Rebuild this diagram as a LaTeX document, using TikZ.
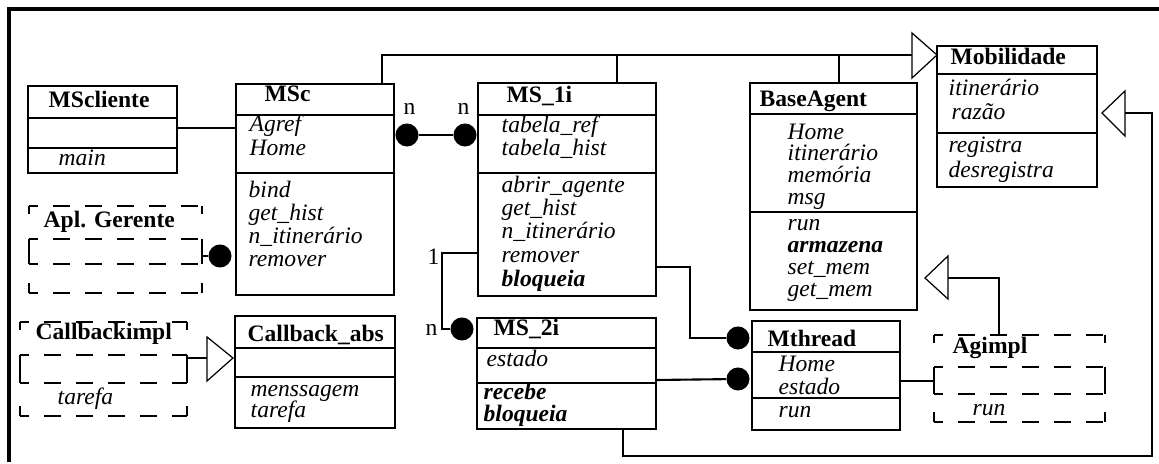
\documentclass[tikz,border=0pt]{standalone}
\usepackage{fontspec}
\setmainfont{Liberation Serif}
\newcommand\fs{\fontsize{6.7pt}{8pt}\selectfont}
% class box: name, x1, y1, width (cm), height (cm)
\newcommand\clsnode[5]{\node[clsbox, minimum width=#4cm, minimum height=#5cm] (#1) at (#2,#3) {};}
\newcommand\dshnode[5]{\node[dshbox, minimum width=#4cm, minimum height=#5cm] (#1) at (#2,#3) {};}
% compartment separators: name, y of first line, y of second line
\newcommand\seps[3]{%
  \draw[sep] (#1.west |- 0,#2) -- (#1.east |- 0,#2);
  \draw[sep] (#1.west |- 0,#3) -- (#1.east |- 0,#3);}
% dashed implementation box with three compartments
\newcommand\dshcomp[3]{%
  \draw[dsh] (#1.north west) -- (#1.north east);
  \draw[dsh] (#1.west |- 0,#2) -- (#1.east |- 0,#2);
  \draw[dsh] (#1.west |- 0,#3) -- (#1.east |- 0,#3);
  \draw[dsh] (#1.south west) -- (#1.south east);
  \draw[sep] (#1.north west) -- ++(0,8);
  \draw[sep] (#1.north east) -- ++(0,8);
  \draw[sep] (#1.west |- 0,#2) -- (#1.west |- 0,#3);
  \draw[sep] (#1.east |- 0,#2) -- (#1.east |- 0,#3);
  \draw[sep] (#1.south west) -- ++(0,-10);
  \draw[sep] (#1.south east) -- ++(0,-10);}
\tikzset{
  clsbox/.style={draw, line width=0.6pt, inner sep=0pt, outer sep=0pt, anchor=north west},
  dshbox/.style={inner sep=0pt, outer sep=0pt, anchor=north west},
  sep/.style={line width=0.6pt},
  dsh/.style={line width=0.6pt, dash pattern=on 0.17cm off 0.15cm, dash phase=0.08cm},
  conn/.style={line width=0.6pt},
  frame/.style={line width=0.9pt},
  dot/.style={circle, fill=black, inner sep=0pt, minimum size=0.23cm},
  tri/.style={line width=0.35pt, fill=white},
  ttl/.style={anchor=base west, inner sep=0pt, font=\fs\bfseries},
  itm/.style={anchor=base west, inner sep=0pt, font=\fs\itshape},
  itmb/.style={anchor=base west, inner sep=0pt, font=\fs\bfseries\itshape},
  lab/.style={anchor=base west, inner sep=0pt, font=\fs},
}
\begin{document}
\begin{tikzpicture}[x=0.01cm, y=-0.01cm]
\useasboundingbox (0,0) rectangle (1159,464);

% outer frame (top and left)
\draw[frame] (1159,9) -- (9,9) -- (9,462);

% classes
\clsnode{MScliente}{28}{86}{1.49}{0.87}
\seps{MScliente}{118}{148}
\clsnode{MSc}{236}{84}{1.58}{2.11}
\seps{MSc}{115}{173}
\clsnode{MSi}{478}{83}{1.78}{2.13}
\seps{MSi}{115}{173}
\clsnode{BaseAgent}{750}{83}{1.67}{2.27}
\seps{BaseAgent}{114}{212}
\clsnode{Mobilidade}{937}{46}{1.60}{1.41}
\seps{Mobilidade}{74}{133}
\clsnode{MSii}{477}{318}{1.79}{1.11}
\seps{MSii}{348}{383}
\clsnode{Mthread}{752}{321}{1.48}{1.09}
\seps{Mthread}{352}{398}
\clsnode{Cbabs}{235}{316}{1.60}{1.12}
\seps{Cbabs}{348}{377}

% implementation boxes (dashed)
\dshnode{AplG}{29}{206}{1.73}{0.87}
\dshcomp{AplG}{239}{264}
\dshnode{Cbimpl}{20}{322}{1.67}{0.94}
\dshcomp{Cbimpl}{355}{383}
\dshnode{Agimpl}{934}{335}{1.71}{0.87}
\dshcomp{Agimpl}{367}{394}

% association ends
\node[dot] (dAG) at (220,256) {};
\node[dot] (dMSc) at (407,135) {};
\node[dot] (dMSi) at (465,135) {};
\node[dot] (dMSii) at (462,329) {};
\node[dot] (dMt1) at (738,338) {};
\node[dot] (dMt2) at (738,379) {};

% generalization tips
\coordinate (mobB) at (912,55);
\coordinate (mob2B) at (1125,113);
\coordinate (baB) at (948,278);
\coordinate (cbB) at (207,358);
\coordinate (loopC) at (1152,456);

% connectors
\draw[conn] (MScliente.east |- 0,128) -- (MSc.west |- 0,128);
\draw[conn] (AplG.east |- dAG) -- (dAG);
\draw[conn] (dMSc) -- (dMSi);
\draw[conn] (MSc.north -| 382,0) |- (mobB);
\draw[conn] (MSi.north -| 617,0) |- (mobB);
\draw[conn] (BaseAgent.north -| 839,0) |- (mobB);
\draw[conn] (MSii.south -| 623,0) |- (loopC) |- (mob2B);
\draw[conn] (Agimpl.north -| 999,0) |- (baB);
\draw[conn] (Mthread.east |- 0,381) -- (Agimpl.west |- 0,381);
\draw[conn] (MSi.east |- 0,267) -- (690,267) |- (dMt1);
\draw[conn] (MSii.east |- 0,380) -- (dMt2);
\draw[conn] (MSi.west |- 0,253) -- (442,253) |- (dMSii);
\draw[conn] (Cbimpl.east |- cbB) -- (cbB);

% open triangles
\draw[tri] (912,33) -- (937,55) -- (912,78) -- cycle;
\draw[tri] (1125,91) -- (1102,113) -- (1125,136) -- cycle;
\draw[tri] (948,256) -- (925,278) -- (948,299) -- cycle;
\draw[tri] (207,337) -- (233,358) -- (207,381) -- cycle;

% multiplicities
\node[lab] (m1) at (403,115) {n};
\node[lab] (m2) at (457,115) {n};
\node[lab] (m3) at (427,265) {1};
\node[lab] (m4) at (425,336) {n};

% MScliente
\node[ttl] (t1) at (48,108) {MScliente};
\node[itm] (t1a) at (58,166) {main};
% MSc
\node[ttl] (t2) at (264,102) {MSc};
\node[itm] (t2a) at (249,132) {Agref};
\node[itm] (t2b) at (249,156) {Home};
\node[itm] (t2c) at (248,198) {bind};
\node[itm] (t2d) at (248,221) {get\_hist};
\node[itm] (t2e) at (248,244) {n\_itinerário};
\node[itm] (t2f) at (248,267) {remover};
% MS_1i
\node[ttl] (t3) at (506,103) {MS\_1i};
\node[itm] (t3a) at (501,133) {tabela\_ref};
\node[itm] (t3b) at (501,156) {tabela\_hist};
\node[itm] (t3c) at (501,193) {abrir\_agente};
\node[itm] (t3d) at (501,216) {get\_hist};
\node[itm] (t3e) at (501,239) {n\_itinerário};
\node[itm] (t3f) at (501,263) {remover};
\node[itmb] (t3g) at (501,287) {bloqueia};
% BaseAgent
\node[ttl] (t4) at (759,107) {BaseAgent};
\node[itm] (t4a) at (787,140) {Home};
\node[itm] (t4b) at (787,161) {itinerário};
\node[itm] (t4c) at (787,183) {memória};
\node[itm] (t4d) at (787,205) {msg};
\node[itm] (t4e) at (787,231) {run};
\node[itmb] (t4f) at (787,253) {armazena};
\node[itm] (t4g) at (787,275) {set\_mem};
\node[itm] (t4h) at (787,297) {get\_mem};
% Mobilidade
\node[ttl] (t5) at (950,65) {Mobilidade};
\node[itm] (t5a) at (948,96) {itinerário};
\node[itm] (t5b) at (951,120) {razão};
\node[itm] (t5c) at (948,153) {registra};
\node[itm] (t5d) at (948,178) {desregistra};
% Mthread
\node[ttl] (t6) at (767,347) {Mthread};
\node[itm] (t6a) at (778,372) {Home};
\node[itm] (t6b) at (778,395) {estado};
\node[itm] (t6c) at (778,418) {run};
% MS_2i
\node[ttl] (t7) at (493,336) {MS\_2i};
\node[itm] (t7a) at (486,367) {estado};
\node[itmb] (t7b) at (483,400) {recebe};
\node[itmb] (t7c) at (483,422) {bloqueia};
% Callback_abs
\node[ttl] (t8) at (247,342) {Callback\_abs};
\node[itm] (t8a) at (250,397) {menssagem};
\node[itm] (t8b) at (250,418) {tarefa};
% Callbackimpl
\node[ttl] (t9) at (35,340) {Callbackimpl};
\node[itm] (t9a) at (57,405) {tarefa};
% Apl. Gerente
\node[ttl] (t10) at (43,228) {Apl. Gerente};
% Agimpl
\node[ttl] (t11) at (952,354) {Agimpl};
\node[itm] (t11a) at (972,416) {run};
\end{tikzpicture}
\end{document}
